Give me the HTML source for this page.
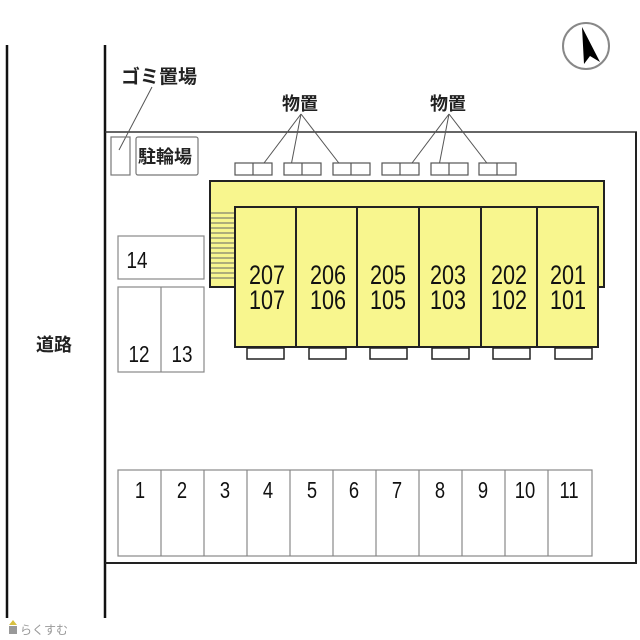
<!DOCTYPE html>
<html><head><meta charset="utf-8"><style>
html,body{margin:0;padding:0;background:#fff;}
svg{display:block}
text{font-family:"Liberation Sans","Noto Sans CJK JP",sans-serif;fill:#111}
.j{font-family:"Liberation Sans","Noto Sans CJK JP",sans-serif;font-weight:bold;fill:#222}
</style></head><body>
<svg width="640" height="640" viewBox="0 0 640 640" xmlns="http://www.w3.org/2000/svg">
<line x1="7" y1="45" x2="7" y2="618" stroke="#111" stroke-width="2.5"/>
<line x1="105" y1="45" x2="105" y2="618" stroke="#111" stroke-width="2.5"/>
<line x1="105" y1="132" x2="637" y2="132" stroke="#333" stroke-width="1.5"/>
<line x1="636" y1="132" x2="636" y2="563" stroke="#222" stroke-width="2"/>
<line x1="105" y1="563" x2="637" y2="563" stroke="#222" stroke-width="2"/>
<text x="36" y="351" class="j" font-size="18">道路</text>
<circle cx="586" cy="46" r="23" fill="none" stroke="#888" stroke-width="2"/>
<polygon points="582,27 600,62 590,56 584,64" fill="#000"/>
<text x="121" y="83" class="j" font-size="19">ゴミ置場</text>
<line x1="152" y1="87" x2="119" y2="150" stroke="#555" stroke-width="1"/>
<rect x="111" y="137" width="19" height="38" fill="none" stroke="#777" stroke-width="1.2"/>
<rect x="136" y="137" width="62" height="38" fill="none" stroke="#777" stroke-width="1.2" rx="2"/>
<text x="138" y="163" class="j" font-size="18">駐輪場</text>
<text x="282" y="110" class="j" font-size="18">物置</text>
<text x="430" y="110" class="j" font-size="18">物置</text>
<g stroke="#555" stroke-width="1" fill="none">
<line x1="301" y1="114" x2="258" y2="171"/>
<line x1="301" y1="114" x2="290" y2="171"/>
<line x1="301" y1="114" x2="345" y2="171"/>
<line x1="449" y1="114" x2="406" y2="171"/>
<line x1="449" y1="114" x2="438" y2="171"/>
<line x1="449" y1="114" x2="493" y2="171"/>
</g>
<g stroke="#555" stroke-width="1.2" fill="#fff">
<rect x="235" y="163" width="37" height="12"/><line x1="253" y1="163" x2="253" y2="175"/>
<rect x="284" y="163" width="37" height="12"/><line x1="302" y1="163" x2="302" y2="175"/>
<rect x="333" y="163" width="37" height="12"/><line x1="351" y1="163" x2="351" y2="175"/>
<rect x="382" y="163" width="37" height="12"/><line x1="400" y1="163" x2="400" y2="175"/>
<rect x="431" y="163" width="37" height="12"/><line x1="449" y1="163" x2="449" y2="175"/>
<rect x="479" y="163" width="37" height="12"/><line x1="497" y1="163" x2="497" y2="175"/>
</g>
<rect x="210" y="181" width="394" height="106" fill="#f8f68e" stroke="#222" stroke-width="2"/>
<g stroke="#666" stroke-width="1">
<line x1="211" y1="213" x2="235" y2="213"/><line x1="211" y1="218" x2="235" y2="218"/><line x1="211" y1="223" x2="235" y2="223"/><line x1="211" y1="228" x2="235" y2="228"/><line x1="211" y1="233" x2="235" y2="233"/><line x1="211" y1="238" x2="235" y2="238"/><line x1="211" y1="243" x2="235" y2="243"/><line x1="211" y1="248" x2="235" y2="248"/><line x1="211" y1="253" x2="235" y2="253"/><line x1="211" y1="258" x2="235" y2="258"/><line x1="211" y1="263" x2="235" y2="263"/><line x1="211" y1="268" x2="235" y2="268"/><line x1="211" y1="273" x2="235" y2="273"/><line x1="211" y1="278" x2="235" y2="278"/>
</g>
<rect x="235" y="207" width="363" height="140" fill="#f8f68e" stroke="#222" stroke-width="2"/>
<g stroke="#222" stroke-width="2">
<line x1="296" y1="207" x2="296" y2="347"/><line x1="357" y1="207" x2="357" y2="347"/><line x1="419" y1="207" x2="419" y2="347"/><line x1="481" y1="207" x2="481" y2="347"/><line x1="537" y1="207" x2="537" y2="347"/>
</g>
<g stroke="#222" stroke-width="1.5" fill="#fff">
<rect x="247" y="348" width="37" height="11"/><rect x="309" y="348" width="37" height="11"/><rect x="370" y="348" width="37" height="11"/><rect x="432" y="348" width="37" height="11"/><rect x="493" y="348" width="37" height="11"/><rect x="555" y="348" width="37" height="11"/>
</g>
<g font-size="27" text-anchor="middle">
<text transform="translate(267,284) scale(0.8,1)">207</text><text transform="translate(267,309) scale(0.8,1)">107</text>
<text transform="translate(328,284) scale(0.8,1)">206</text><text transform="translate(328,309) scale(0.8,1)">106</text>
<text transform="translate(388,284) scale(0.8,1)">205</text><text transform="translate(388,309) scale(0.8,1)">105</text>
<text transform="translate(448,284) scale(0.8,1)">203</text><text transform="translate(448,309) scale(0.8,1)">103</text>
<text transform="translate(509,284) scale(0.8,1)">202</text><text transform="translate(509,309) scale(0.8,1)">102</text>
<text transform="translate(568,284) scale(0.8,1)">201</text><text transform="translate(568,309) scale(0.8,1)">101</text>
</g>
<g stroke="#888" stroke-width="1.2" fill="none">
<rect x="118" y="236" width="86" height="43"/>
<rect x="118" y="287" width="86" height="85"/><line x1="161" y1="287" x2="161" y2="372"/>
</g>
<g font-size="23" text-anchor="middle">
<text transform="translate(137,268) scale(0.82,1)">14</text><text transform="translate(139,362) scale(0.82,1)">12</text><text transform="translate(182,362) scale(0.82,1)">13</text>
</g>
<rect x="118" y="470" width="474" height="86" fill="none" stroke="#888" stroke-width="1.2"/>
<g stroke="#888" stroke-width="1.2">
<line x1="161" y1="470" x2="161" y2="556"/><line x1="204" y1="470" x2="204" y2="556"/><line x1="247" y1="470" x2="247" y2="556"/><line x1="290" y1="470" x2="290" y2="556"/><line x1="333" y1="470" x2="333" y2="556"/><line x1="376" y1="470" x2="376" y2="556"/><line x1="419" y1="470" x2="419" y2="556"/><line x1="462" y1="470" x2="462" y2="556"/><line x1="505" y1="470" x2="505" y2="556"/><line x1="548" y1="470" x2="548" y2="556"/>
</g>
<g font-size="23" text-anchor="middle">
<text transform="translate(140,498) scale(0.8,1)">1</text><text transform="translate(182,498) scale(0.8,1)">2</text><text transform="translate(225,498) scale(0.8,1)">3</text><text transform="translate(268,498) scale(0.8,1)">4</text><text transform="translate(312,498) scale(0.8,1)">5</text><text transform="translate(354,498) scale(0.8,1)">6</text><text transform="translate(397,498) scale(0.8,1)">7</text><text transform="translate(440,498) scale(0.8,1)">8</text><text transform="translate(483,498) scale(0.8,1)">9</text><text transform="translate(525,498) scale(0.8,1)">10</text><text transform="translate(569,498) scale(0.8,1)">11</text>
</g>
<rect x="9" y="626" width="8" height="8" fill="#999"/>
<polygon points="9,625 13,620 17,625" fill="#d8c040"/>
<text x="20" y="634" font-size="12" style="fill:#999;font-family:'Noto Sans CJK JP',sans-serif">らくすむ</text>
</svg>
</body></html>
